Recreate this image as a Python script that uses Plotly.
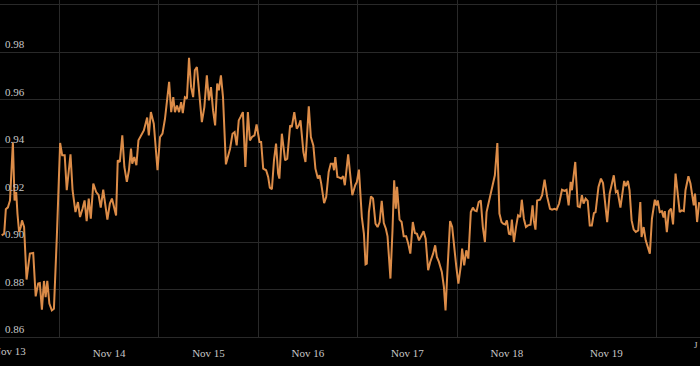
import pandas as pd
import plotly.graph_objects as go

# hours since 2023-11-13 00:00
hours = [10.1, 10.7, 11.1, 11.6, 12.1, 12.8, 13.2, 13.6, 13.9, 14.3, 14.7, 15.0, 15.5, 16.1, 16.9, 17.7, 18.3, 18.9, 19.3, 19.8,
         20.3, 20.7, 21.1, 21.6, 22.2, 22.7, 23.4, 24.2, 24.7, 25.3, 25.8, 26.3, 26.7, 27.2, 27.9, 28.5, 29.0, 29.6, 30.1, 30.6,
         31.1, 31.6, 32.2, 32.9, 33.5, 34.0, 34.6, 35.6, 36.2, 36.7, 37.7, 38.1, 38.6, 39.2, 39.7, 40.3, 40.8, 41.3, 41.6, 42.1,
         42.6, 43.1, 43.7, 44.4, 45.2, 45.6, 46.1, 46.8, 47.7, 48.3, 48.9, 49.5, 50.5, 51.0, 51.5, 51.9, 52.4, 52.9, 53.4, 53.8,
         54.3, 54.8, 55.3, 55.8, 56.3, 56.7, 57.2, 57.7, 58.4, 59.0, 59.6, 60.1, 60.6, 61.1, 61.6, 62.1, 62.5, 63.0, 63.5, 64.2,
         65.2, 65.8, 66.3, 66.8, 67.3, 67.8, 68.3, 68.9, 69.5, 70.0, 70.5, 71.1, 71.6, 72.3, 72.7, 73.2, 73.9, 74.4, 74.8, 75.3,
         75.8, 76.3, 76.8, 77.1, 77.7, 78.1, 78.5, 79.0, 79.7, 80.1, 80.7, 81.3, 81.8, 82.2, 82.9, 83.4, 84.2, 84.7, 85.3, 85.8,
         86.4, 86.8, 87.2, 87.9, 88.4, 89.0, 89.5, 90.0, 90.3, 90.6, 91.1, 91.6, 92.0, 92.5, 92.9, 93.7, 94.2, 94.7, 95.4, 95.8,
         96.3, 97.0, 97.5, 97.9, 98.2, 98.7, 99.2, 99.7, 100.3, 100.8, 101.3, 101.8, 102.3, 102.8, 103.2, 103.9, 104.4, 104.8, 105.2, 105.5,
         106.1, 106.6, 107.1, 107.7, 108.2, 108.7, 109.3, 109.8, 110.3, 110.8, 111.3, 111.9, 112.4, 113.0, 113.5, 114.2, 114.7, 115.1, 115.6, 116.3,
         116.8, 117.2, 117.7, 118.3, 118.8, 119.3, 119.8, 120.3, 120.9, 121.2, 121.7, 122.2, 122.7, 123.3, 123.8, 124.2, 124.7, 125.2, 125.7, 126.2,
         126.7, 127.1, 127.6, 128.1, 128.6, 129.1, 129.7, 130.2, 130.7, 131.1, 131.6, 132.0, 132.5, 132.9, 133.2, 133.7, 134.2, 134.7, 135.2, 135.6,
         136.1, 136.6, 137.1, 137.7, 138.2, 138.5, 138.9, 139.3, 140.0, 140.5, 141.1, 141.7, 142.4, 142.9, 143.5, 144.0, 144.6, 145.3, 145.9, 146.4,
         146.9, 147.4, 147.7, 148.5, 149.1, 149.6, 150.1, 150.5, 151.0, 151.5, 152.0, 152.5, 153.0, 153.4, 154.1, 154.7, 155.2, 155.7, 156.2, 156.8,
         157.3, 157.8, 158.3, 158.7, 159.4, 159.9, 160.3, 160.7, 161.2, 161.6, 162.1, 162.6, 163.1, 163.7, 164.2, 164.5, 165.0, 165.5, 166.0, 166.5,
         167.0, 167.4, 167.7, 168.1, 168.4, 168.9, 169.4, 169.8, 170.1, 170.6, 171.1, 171.6, 172.1, 172.7, 173.2, 173.7, 174.2, 174.7, 175.1, 175.8,
         176.3, 176.7, 177.1, 177.4, 177.9, 178.4]

values = [0.9028, 0.9035, 0.9138, 0.9146, 0.9175, 0.9420, 0.9175, 0.9210, 0.9120, 0.9042, 0.9063, 0.9091, 0.9063, 0.8842, 0.8951, 0.8954, 0.8771, 0.8825, 0.8827, 0.8715,
          0.8836, 0.8768, 0.8836, 0.8741, 0.8712, 0.8719, 0.9021, 0.9417, 0.9365, 0.9365, 0.9218, 0.9309, 0.9369, 0.9218, 0.9126, 0.9168, 0.9105, 0.9140, 0.9175, 0.9088,
          0.9183, 0.9098, 0.9246, 0.9210, 0.9197, 0.9145, 0.9220, 0.9094, 0.9162, 0.9183, 0.9112, 0.9344, 0.9337, 0.9449, 0.9316, 0.9253, 0.9302, 0.9393, 0.9330, 0.9358,
          0.9323, 0.9428, 0.9449, 0.9470, 0.9524, 0.9449, 0.9547, 0.9498, 0.9302, 0.9442, 0.9456, 0.9519, 0.9674, 0.9547, 0.9610, 0.9547, 0.9575, 0.9547, 0.9589, 0.9543,
          0.9610, 0.9604, 0.9776, 0.9652, 0.9610, 0.9723, 0.9737, 0.9639, 0.9505, 0.9568, 0.9702, 0.9596, 0.9652, 0.9554, 0.9491, 0.9667, 0.9639, 0.9702, 0.9610, 0.9327,
          0.9393, 0.9456, 0.9463, 0.9407, 0.9512, 0.9529, 0.9547, 0.9316, 0.9547, 0.9428, 0.9442, 0.9449, 0.9495, 0.9421, 0.9421, 0.9309, 0.9302, 0.9274, 0.9229, 0.9222,
          0.9344, 0.9414, 0.9288, 0.9267, 0.9456, 0.9400, 0.9344, 0.9351, 0.9491, 0.9484, 0.9547, 0.9477, 0.9491, 0.9512, 0.9379, 0.9337, 0.9571, 0.9442, 0.9407, 0.9309,
          0.9267, 0.9281, 0.9246, 0.9164, 0.9189, 0.9295, 0.9330, 0.9330, 0.9302, 0.9358, 0.9274, 0.9271, 0.9267, 0.9277, 0.9239, 0.9369, 0.9274, 0.9197, 0.9239, 0.9253,
          0.9305, 0.9105, 0.9035, 0.8906, 0.8909, 0.9126, 0.9192, 0.9183, 0.9077, 0.9063, 0.9084, 0.9173, 0.9080, 0.9056, 0.9024, 0.8846, 0.9049, 0.9260, 0.9140, 0.9232,
          0.9094, 0.9084, 0.9024, 0.9024, 0.8993, 0.8951, 0.9084, 0.9038, 0.9035, 0.9007, 0.9024, 0.9045, 0.9014, 0.8881, 0.8916, 0.8951, 0.8986, 0.8937, 0.8916, 0.8874,
          0.8811, 0.8712, 0.8895, 0.9088, 0.9063, 0.8965, 0.8895, 0.8825, 0.8902, 0.8972, 0.8902, 0.8965, 0.8930, 0.9126, 0.9145, 0.9133, 0.9130, 0.9168, 0.9175, 0.9063,
          0.9000, 0.9126, 0.9168, 0.9210, 0.9246, 0.9281, 0.9417, 0.9120, 0.9084, 0.9077, 0.9074, 0.9091, 0.9035, 0.9032, 0.9094, 0.9000, 0.9063, 0.9112, 0.9105, 0.9178,
          0.9098, 0.9063, 0.9070, 0.9073, 0.9154, 0.9091, 0.9052, 0.9175, 0.9178, 0.9197, 0.9263, 0.9192, 0.9140, 0.9136, 0.9140, 0.9136, 0.9162, 0.9220, 0.9215, 0.9220,
          0.9154, 0.9253, 0.9218, 0.9337, 0.9150, 0.9147, 0.9197, 0.9162, 0.9183, 0.9173, 0.9070, 0.9070, 0.9122, 0.9126, 0.9232, 0.9267, 0.9248, 0.9154, 0.9084, 0.9204,
          0.9248, 0.9281, 0.9210, 0.9215, 0.9145, 0.9197, 0.9257, 0.9235, 0.9257, 0.9218, 0.9091, 0.9052, 0.9042, 0.9049, 0.9168, 0.9021, 0.9063, 0.9007, 0.8976, 0.8951,
          0.9098, 0.9140, 0.9178, 0.9154, 0.9175, 0.9126, 0.9130, 0.9103, 0.9130, 0.9042, 0.9130, 0.9140, 0.9074, 0.9288, 0.9218, 0.9126, 0.9133, 0.9130, 0.9218, 0.9277,
          0.9246, 0.9192, 0.9154, 0.9204, 0.9084, 0.9168]

y_ticks = [0.86, 0.88, 0.90, 0.92, 0.94, 0.96, 0.98]
y_grid_top = [1.00]
x_tick_labels = ["Nov 13", "Nov 14", "Nov 15", "Nov 16", "Nov 17", "Nov 18", "Nov 19"]

start = pd.Timestamp("2023-11-13 00:00")
times = start + pd.to_timedelta(hours, unit="h")
# labels sit at the middle of each day, gridlines at midnight
label_pos = [start + pd.Timedelta(days=i, hours=12) for i in range(len(x_tick_labels))]

fig = go.Figure(go.Scatter(x=times, y=values, mode="lines",
                           line=dict(color="#dc8c48", width=2), hoverinfo="skip"))

font = dict(family="Liberation Serif, Times New Roman, serif", size=11, color="#c8c8c8")
grid = "#292929"
fig.update_layout(
    width=700, height=366,
    margin=dict(l=0, r=0, t=0, b=29, autoexpand=False),
    paper_bgcolor="#000000", plot_bgcolor="#000000",
    showlegend=False, font=font,
)
fig.update_xaxes(
    type="date", automargin=False,
    range=[start + pd.Timedelta(hours=9.69), start + pd.Timedelta(hours=178.6)],
    tickvals=label_pos[1:], ticktext=x_tick_labels[1:], showgrid=False,
    minor=dict(dtick=86400000, tick0="2023-11-13", showgrid=True, gridcolor=grid, gridwidth=1, ticks=""),
    zeroline=False, showline=True, linecolor=grid, linewidth=1,
    ticks="", tickfont=font, ticklabelstandoff=6,
)
fig.update_yaxes(
    automargin=False,
    range=[0.86, 1.0019], tickvals=y_ticks, tickformat=".2f",
    ticklabelposition="inside top", showgrid=True, gridcolor=grid, gridwidth=1,
    minor=dict(tickvals=y_grid_top, showgrid=True, gridcolor=grid, gridwidth=1, ticks=""),
    zeroline=False, showline=False, ticks="", tickfont=font, ticklabelstandoff=2,
)
# first day label is partly cut by the left edge, as in the source
fig.add_annotation(text=x_tick_labels[0], x=label_pos[0], xref="x", yref="paper", y=0,
                   xanchor="center", yanchor="top", yshift=-6, showarrow=False, font=font)
fig.add_annotation(text="J", xref="paper", yref="paper", x=1.0, y=-0.002, xanchor="right",
                   yanchor="top", showarrow=False, font=dict(family=font["family"], size=9, color="#c8c8c8"))

fig.write_html("out.html")
